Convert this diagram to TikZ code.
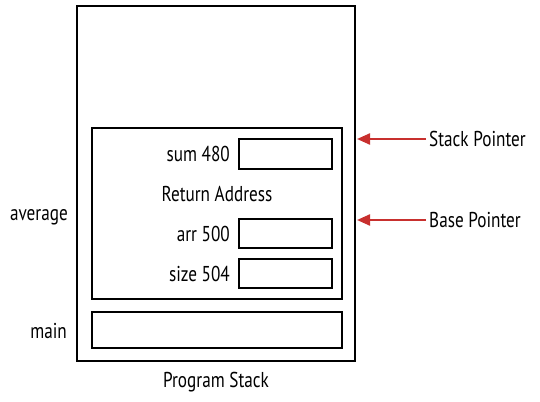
\documentclass[tikz,border=0pt]{standalone}
\usepackage{fontspec}
\setmainfont{PT Sans}[FakeStretch=0.8]
\usetikzlibrary{arrows.meta}
\definecolor{ptrred}{HTML}{C8302E}
\begin{document}
\begin{tikzpicture}[x=1pt,y=-1pt,
  box/.style={draw=black,line width=2.4pt,inner sep=0pt},
  lbl/.style={font=\fontsize{21.5}{24}\selectfont,inner sep=0pt},
  ptr/.style={draw=ptrred,line width=2.2pt,-{Triangle[length=13pt,width=11pt]}}]
\useasboundingbox (0,0) rectangle (540,401);
\node[box,minimum width=278pt,minimum height=355pt] (stack) at (216,183.5) {};
\node[box,minimum width=250pt,minimum height=171pt] (frame) at (217,213.5) {};
\node[box,minimum width=250pt,minimum height=36pt] (mainbox) at (217,330) {};
\node[box,minimum width=93pt,minimum height=30pt] (sumbox) at (285.5,154) {};
\node[box,minimum width=93pt,minimum height=29pt] (arrbox) at (285.5,233.5) {};
\node[box,minimum width=93pt,minimum height=29pt] (sizebox) at (285.5,273.5) {};
\node[lbl,anchor=base east] (sum) at (230,161) {sum 480};
\node[lbl,anchor=base] (ret) at (217,201) {Return Address};
\node[lbl,anchor=base east] (arr) at (230,241) {arr 500};
\node[lbl,anchor=base east] (size) at (230,281) {size 504};
\node[lbl,anchor=base east] (avg) at (68,220) {average};
\node[lbl,anchor=base east] (main) at (67,338) {main};
\node[lbl,anchor=base] (prog) at (216,387) {Program Stack};
\node[lbl,anchor=base west] (sp) at (429,146) {Stack Pointer};
\node[lbl,anchor=base west] (bp) at (429,227) {Base Pointer};
\coordinate (spend) at (357,139);
\coordinate (bpend) at (357,220);
\draw[ptr] (sp.west |- spend) ++(-3,0) -- (spend);
\draw[ptr] (bp.west |- bpend) ++(-3,0) -- (bpend);
\end{tikzpicture}
\end{document}
